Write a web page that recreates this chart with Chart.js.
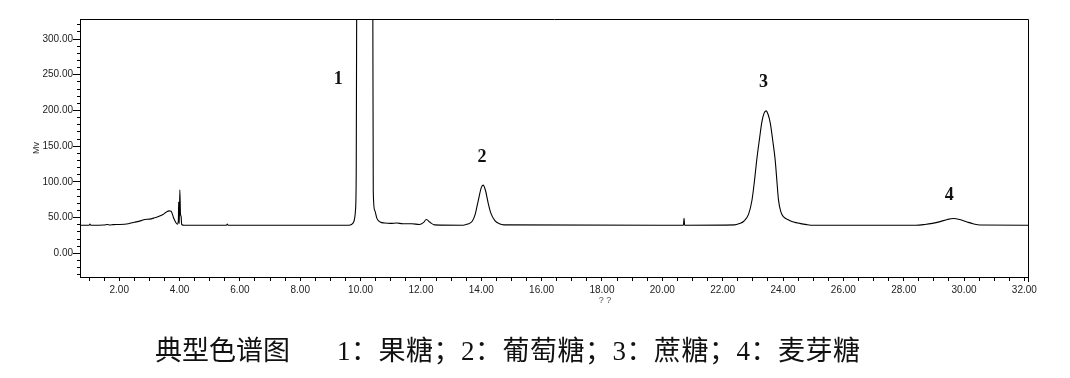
<!DOCTYPE html>
<html lang="zh">
<head>
<meta charset="utf-8">
<title>典型色谱图</title>
<script src="https://cdn.jsdelivr.net/npm/chart.js@4/dist/chart.umd.min.js"></script>
<style>
  html, body { margin: 0; padding: 0; background: #fff; }
  #wrap { position: relative; width: 1070px; height: 378px; overflow: hidden; }
  #chart { position: absolute; left: 0; top: 0; }
  .cap { position: absolute; top: 338px; font-size: 27px; line-height: 27px; color: #111;
         font-family: "Liberation Serif", "Noto Sans CJK SC", serif; white-space: pre; }
</style>
</head>
<body>
<div id="wrap">
  <canvas id="chart" width="1070" height="378"></canvas>
  <div class="cap" style="left:155px">典型色谱图</div>
  <div class="cap" style="left:337px; letter-spacing:0.5px">1：果糖；2：葡萄糖；3：蔗糖；4：麦芽糖</div>
</div>
<script>
// Retention time (min) and detector signal (mV) of the chromatogram trace
const retentionTime = [
  0.70, 1.00, 1.03, 1.06, 1.50, 1.60, 1.70, 1.80, 2.00, 2.30, 2.50, 2.70, 2.85, 3.00,
  3.15, 3.30, 3.45, 3.55, 3.65, 3.72, 3.80, 3.88, 3.93, 3.96, 3.97, 3.98, 3.99, 4.01,
  4.03, 4.05, 4.07, 4.15, 5.55, 5.58, 5.61, 9.60, 9.70, 9.78, 9.83, 9.855, 9.87, 10.14,
  10.405, 10.42, 10.47, 10.54, 10.65, 10.80, 11.00, 11.20, 11.40, 11.70, 11.95, 12.08,
  12.18, 12.30, 12.45, 13.40, 13.55, 13.70, 13.80, 13.90, 14.00, 14.06, 14.14, 14.22,
  14.32, 14.45, 14.60, 14.75, 20.70, 20.72, 20.74, 22.40, 22.55, 22.70, 22.86, 22.97,
  23.05, 23.13, 23.22, 23.30, 23.37, 23.44, 23.51, 23.58, 23.66, 23.74, 23.80, 23.85,
  23.93, 24.02, 24.20, 24.35, 24.55, 24.79, 25.00, 28.40, 28.70, 28.95, 29.21, 29.45,
  29.65, 29.85, 30.10, 30.30, 30.54, 32.12
];
const signalMv = [
  39.5, 39.5, 41.0, 39.5, 39.8, 40.5, 39.8, 40.3, 40.5, 41.5, 43.5, 45.5, 47.5, 48.0,
  49.5, 51.5, 54.5, 57.5, 59.5, 59.0, 50.0, 43.0, 40.8, 46.0, 72.0, 50.0, 42.0, 89.0,
  55.0, 52.0, 40.5, 39.5, 39.5, 41.0, 39.5, 39.5, 40.5, 45.0, 60.0, 112.0, 340.0, 1500.0,
  340.0, 86.0, 60.0, 49.0, 44.0, 42.5, 42.0, 42.5, 41.5, 41.5, 40.5, 43.0,
  47.5, 43.5, 40.0, 39.5, 41.0, 45.0, 55.0, 74.0, 92.0, 95.5, 88.0, 72.0,
  56.0, 46.0, 41.5, 40.0, 39.5, 49.0, 39.5, 40.0, 41.8, 45.0, 55.0, 74.0,
  100.0, 131.0, 160.0, 184.0, 196.0, 199.5, 194.0, 182.0, 158.0, 131.0, 100.0, 75.0,
  58.0, 51.0, 46.5, 44.0, 42.0, 40.3, 39.5, 39.5, 40.5, 42.0, 44.5, 47.5,
  48.8, 47.5, 44.0, 41.5, 39.8, 39.5
];

// Peak numbers and where they sit (time, mV)
const peakNames = ['1', '2', '3', '4'];
const peakLabelTime = [9.26, 14.02, 23.35, 29.51];
const peakLabelMv = [243, 135, 239, 81.5];

// Axis ticks: labelled values and the finer unlabelled marks between them
const xMajorTicks = [2, 4, 6, 8, 10, 12, 14, 16, 18, 20, 22, 24, 26, 28, 30, 32];
const xMinorStep = 0.5;
const yMajorTicks = [0, 50, 100, 150, 200, 250, 300];
const yMinorStep = 10;
const xAxisTitle = '? ?';
const yAxisTitle = 'Mv';

const X_MIN = 0.70, X_MAX = 32.12, Y_MIN = -33, Y_MAX = 328;

function stepValues(lo, hi, step) {
  const out = [];
  for (let v = Math.ceil(lo / step) * step; v <= hi + 1e-9; v += step) out.push(Math.round(v * 100) / 100);
  return out;
}
const isMajorX = v => xMajorTicks.some(m => Math.abs(m - v) < 1e-6);
const isMajorY = v => yMajorTicks.some(m => Math.abs(m - v) < 1e-6);

const points = retentionTime.map((t, i) => ({ x: t, y: signalMv[i] }));

// Closed frame around the plot area plus peak numbers and the x-axis caption
const decorations = {
  id: 'decorations',
  afterDatasetsDraw(chart) {
    const { ctx, chartArea: a, scales: { x, y } } = chart;
    ctx.save();
    ctx.strokeStyle = '#000';
    ctx.lineWidth = 1;
    ctx.beginPath();
    ctx.moveTo(Math.round(a.left) + 0.5, Math.round(a.top) + 0.5);
    ctx.lineTo(Math.round(a.right) + 0.5, Math.round(a.top) + 0.5);
    ctx.lineTo(Math.round(a.right) + 0.5, Math.round(a.bottom) + 5);
    ctx.stroke();

    ctx.fillStyle = '#111';
    ctx.font = 'bold 18px "Liberation Serif", serif';
    ctx.textAlign = 'center';
    ctx.textBaseline = 'middle';
    peakNames.forEach((n, i) => {
      ctx.fillText(n, x.getPixelForValue(peakLabelTime[i]), y.getPixelForValue(peakLabelMv[i]));
    });

    ctx.fillStyle = '#555';
    ctx.font = '9px "Liberation Sans", sans-serif';
    ctx.fillText(xAxisTitle, x.getPixelForValue(18.1), a.bottom + 24);
    ctx.restore();
  }
};

new Chart(document.getElementById('chart'), {
  type: 'line',
  data: {
    datasets: [{
      data: points,
      borderColor: '#000',
      borderWidth: 1.1,
      pointRadius: 0,
      fill: false,
      cubicInterpolationMode: 'monotone',
      clip: 0
    }]
  },
  options: {
    responsive: false,
    animation: false,
    devicePixelRatio: 1,
    layout: { padding: { top: 19, right: 42, bottom: 0, left: 0 } },
    plugins: { legend: { display: false }, tooltip: { enabled: false } },
    scales: {
      x: {
        type: 'linear',
        min: X_MIN,
        max: X_MAX,
        afterFit: s => { s.height = 101; },
        afterBuildTicks: s => { s.ticks = stepValues(X_MIN, X_MAX, xMinorStep).map(v => ({ value: v })); },
        border: { display: true, color: '#000', width: 1 },
        grid: { drawOnChartArea: false, drawTicks: true, tickLength: 4, tickColor: '#000', tickWidth: 1 },
        ticks: {
          autoSkip: false,
          maxRotation: 0,
          padding: 3,
          color: '#222',
          font: { family: '"Liberation Sans", Arial, sans-serif', size: 10 },
          callback: v => isMajorX(v) ? v.toFixed(2) : ''
        }
      },
      y: {
        type: 'linear',
        min: Y_MIN,
        max: Y_MAX,
        afterFit: s => { s.width = 80; },
        afterBuildTicks: s => { s.ticks = stepValues(Y_MIN, Y_MAX, yMinorStep).map(v => ({ value: v })); },
        border: { display: true, color: '#000', width: 1 },
        grid: {
          drawOnChartArea: false,
          drawTicks: true,
          tickLength: 7,
          tickColor: '#000',
          tickWidth: 1,
          tickBorderDash: c => (c.tick && isMajorY(c.tick.value)) ? [] : [0, 4, 3, 10]
        },
        title: {
          display: true,
          text: yAxisTitle,
          color: '#333',
          font: { family: '"Liberation Sans", Arial, sans-serif', size: 9 },
          padding: { top: 31, bottom: 0 }
        },
        ticks: {
          autoSkip: false,
          padding: 0,
          color: '#222',
          font: { family: '"Liberation Sans", Arial, sans-serif', size: 10 },
          callback: v => isMajorY(v) ? v.toFixed(2) : ''
        }
      }
    }
  },
  plugins: [decorations]
});
</script>
</body>
</html>
